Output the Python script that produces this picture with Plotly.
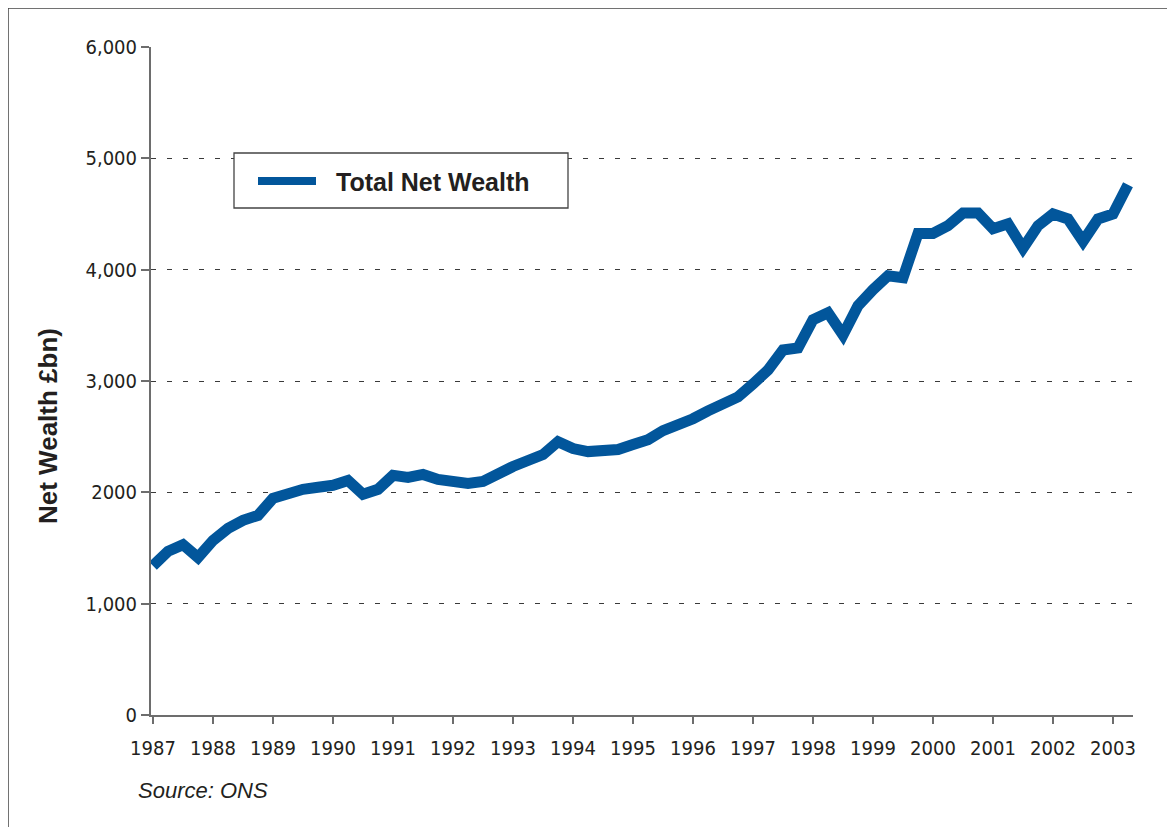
import plotly.graph_objects as go

# ---------------- data ----------------
start_year = 1987
net_wealth = [
    1340, 1470, 1530, 1415, 1568, 1676, 1748, 1793,
    1946, 1991, 2027, 2045, 2063, 2107, 1982, 2027,
    2152, 2134, 2161, 2116, 2089, 2080, 2098, 2179,
    2232, 2286, 2339, 2455, 2393, 2366, 2375, 2384,
    2429, 2473, 2554, 2598, 2661, 2732, 2804, 2857,
    2973, 3099, 3279, 3297, 3550, 3613, 3414, 3676,
    3820, 3946, 3928, 4325, 4325, 4395, 4509, 4509,
    4368, 4412, 4193, 4395, 4500, 4456, 4254, 4456,
    4500, 4763,
]
quarter_x = [start_year + i / 4 for i in range(len(net_wealth))]

year_ticks = list(range(1987, 2004))
year_labels = [str(y) for y in year_ticks]
y_ticks = [0, 1000, 2000, 3000, 4000, 5000, 6000]
y_labels = ["0", "1,000", "2000", "3,000", "4,000", "5,000", "6,000"]
series_name = "Total Net Wealth"

# ---------------- layout geometry ----------------
W, H = 1175, 827
OFF = 8  # page body margin: screen px = figure px + 8
# target screen positions of the plot area
SL, SR, ST, SB = 151, 1133, 47, 715
L, R, T, B = SL - OFF, SR - OFF, ST - OFF, SB - OFF
PX_PER_YEAR = 60.0
x0 = 1987 - 2 / PX_PER_YEAR
x1 = x0 + (R - L) / PX_PER_YEAR


def px(xs):
    """screen x pixel -> paper coordinate"""
    return (xs - SL) / (SR - SL)


def py(ys):
    """screen y pixel -> paper coordinate"""
    return (SB - ys) / (SB - ST)


LINE_COLOR = "#02569B"
TEXT_COLOR = "#231f20"
AXIS_COLOR = "#6d6d6d"
NARROW = "Liberation Sans Narrow, Arial Narrow, DejaVu Sans Condensed, sans-serif"
SANS = "Liberation Sans, Arial, Helvetica, sans-serif"

fig = go.Figure()
fig.add_trace(go.Scatter(
    x=quarter_x, y=net_wealth, mode="lines", name=series_name,
    line=dict(color=LINE_COLOR, width=11, shape="linear"),
    showlegend=False,
))

fig.update_layout(
    width=W, height=H,
    margin=dict(l=L, r=W - R, t=T, b=H - B, pad=0),
    paper_bgcolor="white", plot_bgcolor="white",
    font=dict(family=NARROW, color=TEXT_COLOR, size=20),
    xaxis=dict(
        range=[x0, x1], tickvals=year_ticks, ticktext=year_labels,
        showgrid=False, zeroline=False,
        showline=True, linecolor=AXIS_COLOR, linewidth=2,
        ticks="outside", ticklen=7, tickcolor=AXIS_COLOR, tickwidth=1.5,
        ticklabelstandoff=7,
        tickfont=dict(family=NARROW, size=20, color=TEXT_COLOR),
    ),
    yaxis=dict(
        range=[0, 6000], tickvals=y_ticks, ticktext=y_labels,
        showgrid=True, gridcolor="#3a3a3a", gridwidth=1, griddash="5px,11px",
        zeroline=False,
        showline=True, linecolor=AXIS_COLOR, linewidth=2,
        ticks="outside", ticklen=8, tickcolor=AXIS_COLOR, tickwidth=1.5,
        tickfont=dict(family=NARROW, size=20, color=TEXT_COLOR),
    ),
    shapes=[
        # outer frame
        dict(type="rect", xref="paper", yref="paper",
             x0=px(8), x1=px(1200), y0=py(850), y1=py(8),
             line=dict(color="#444444", width=1.5), layer="below"),
        # legend box
        dict(type="rect", xref="paper", yref="paper",
             x0=px(234), x1=px(568), y0=py(208), y1=py(153),
             line=dict(color="#444444", width=1.3), fillcolor="white", layer="above"),
        # legend line sample
        dict(type="line", xref="paper", yref="paper",
             x0=px(258), x1=px(316), y0=py(181), y1=py(181),
             line=dict(color=LINE_COLOR, width=8)),
    ],
    annotations=[
        dict(text="<b>" + series_name + "</b>", xref="paper", yref="paper",
             x=px(334), y=py(182), xanchor="left", yanchor="middle", showarrow=False,
             font=dict(family=SANS, size=25, color=TEXT_COLOR)),
        dict(text="<b>Net Wealth £bn)</b>", xref="paper", yref="paper",
             x=px(48), y=py(426), xanchor="center", yanchor="middle", showarrow=False,
             textangle=-90, font=dict(family=SANS, size=26, color=TEXT_COLOR)),
        dict(text="<i>Source: ONS</i>", xref="paper", yref="paper",
             x=px(136), y=py(791), xanchor="left", yanchor="middle", showarrow=False,
             font=dict(family=SANS, size=22, color=TEXT_COLOR)),
    ],
)

fig.write_html("out.html")
